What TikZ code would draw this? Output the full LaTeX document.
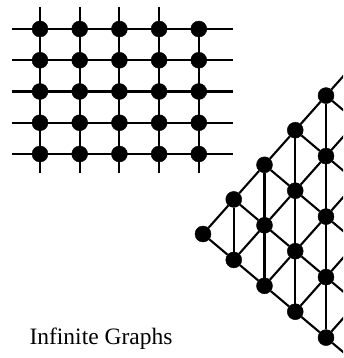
\documentclass[tikz,border=0pt]{standalone}
\usepackage{fontspec}
\setmainfont{Liberation Serif}
\usepackage{tikz}
\usetikzlibrary{positioning, calc}

\tikzset{
	vtx/.style={circle,fill=black,draw=black,minimum size=16pt,inner sep=0pt},
	edge/.style={black,line width=2.1pt}
}

\begin{document}
\begin{tikzpicture}[x=1pt,y=-1pt]
		\useasboundingbox (0,0) rectangle (343,358);
		\clip (0,0) rectangle (343,358);
		% square grid
		\foreach \i in {1,...,5}\foreach \j in {1,...,5}{\node[vtx] (g\i\j) at ({40*\i-0.3*(\i-1)},{29+31.25*(\j-1)}){};}
		\foreach \j in {1,...,5}{\coordinate (l\j) at (12,{29+31.25*(\j-1)}); \coordinate (r\j) at (233,{29+31.25*(\j-1)});}
		\foreach \i in {1,...,4}{\coordinate (a\i) at ({40*\i-0.3*(\i-1)},7);}
		\foreach \i in {1,...,5}{\coordinate (b\i) at ({40*\i-0.3*(\i-1)},173);}
		\foreach \j in {1,...,5}{\draw[edge] (l\j)--(r\j);}
		\foreach \i in {1,...,4}{\draw[edge] (a\i)--(b\i);}
		\draw[edge] (g51)--(b5);
		% triangular wedge
		\foreach \k in {0,...,4}\foreach \j in {0,...,\k}{\node[vtx] (t\k-\j) at ({203+30.75*\k},{234-34.6*\k+60.5*\j}){};}
		\foreach \k in {0,...,3}\foreach \j in {0,...,\k}{
			\pgfmathtruncatemacro{\kk}{\k+1}\pgfmathtruncatemacro{\jj}{\j+1}
			\draw[edge] (t\k-\j)--(t\kk-\j);
			\draw[edge] (t\k-\j)--(t\kk-\jj);}
		\foreach \k in {1,...,4}{\draw[edge] (t\k-0)--(t\k-\k);}
		\foreach \j in {0,...,4}{
			\coordinate (u\j) at ({203+30.75*5},{234-34.6*5+60.5*\j});
			\coordinate (d\j) at ({203+30.75*5},{234-34.6*5+60.5*(\j+1)});
			\draw[edge] (u\j)--(t4-\j)--(d\j);}
		\node[font=\fontsize{23.5}{28}\selectfont] (title) at (101,339) {Infinite Graphs};
	\end{tikzpicture}
\end{document}
